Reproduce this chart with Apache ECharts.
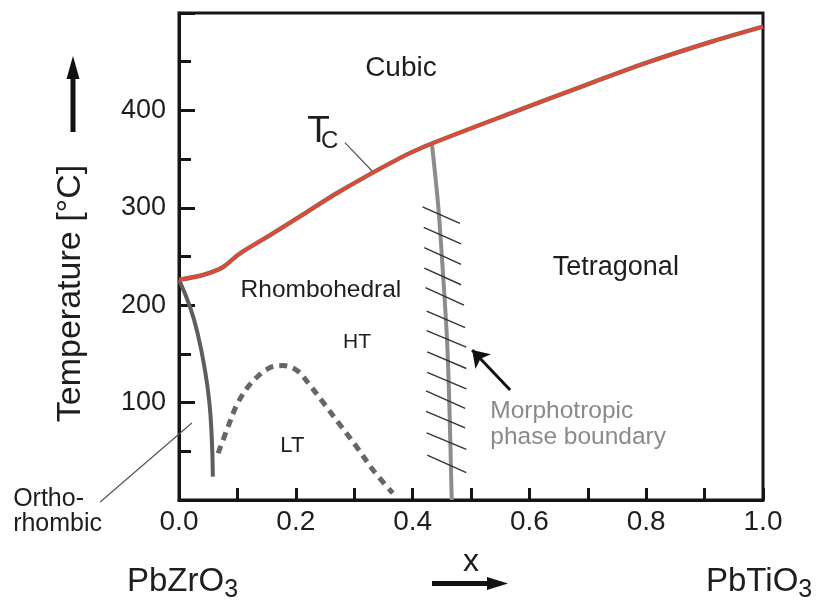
<!DOCTYPE html>
<html><head><meta charset="utf-8">
<script src="https://cdn.jsdelivr.net/npm/echarts@6/dist/echarts.min.js"></script>
<style>html,body{margin:0;padding:0;background:#fff}#c{width:823px;height:605px}</style>
</head><body><div id="c"></div>
<script>
const FONT = 'Liberation Sans, Arial, Helvetica, sans-serif';

// ---- data (x = mole fraction PbTiO3, T in °C) ----
const xTickLabels = ['0.0','0.2','0.4','0.6','0.8','1.0'];
const yTickLabels = ['100','200','300','400'];

// Curie temperature Tc
const tcX = [0, 0.041, 0.075, 0.104, 0.156, 0.212, 0.27, 0.378, 0.433, 0.572, 0.687, 0.801, 0.914, 1.0];
const tcT = [226, 231, 239, 253, 272, 293, 315, 351, 366, 398, 424, 449, 471, 486];

// orthorhombic / rhombohedral boundary
const orthoX = [0, 0.019, 0.033, 0.0445, 0.052, 0.056, 0.058];
const orthoT = [226, 198, 168, 133, 100, 65, 24];

// LT / HT rhombohedral boundary (dashed)
const ltX = [0.067, 0.082, 0.101, 0.125, 0.156, 0.178, 0.202, 0.224, 0.247, 0.276, 0.305, 0.332, 0.366];
const ltT = [48, 72, 100, 121, 136, 138, 133, 118, 100, 77, 54, 31, 7];

// morphotropic phase boundary
const mpbX = [0.433, 0.444, 0.452, 0.459, 0.463, 0.467];
const mpbT = [366, 301, 233, 164, 96, 0];

// hatch marks across the MPB
const hatchX1 = [0.417, 0.419, 0.420, 0.420, 0.422, 0.424, 0.424, 0.425, 0.425, 0.423, 0.423, 0.424, 0.425];
const hatchT1 = [301, 280, 259, 238, 218, 194, 174, 152, 131, 112, 91, 69, 46];
const hatchX2 = [0.481, 0.483, 0.483, 0.483, 0.488, 0.490, 0.492, 0.492, 0.492, 0.490, 0.490, 0.492, 0.492];
const hatchT2 = [284, 263, 242, 221, 200, 177, 157, 135, 114, 94, 74, 52, 28];

// pointer lines [x1, T1, x2, T2]
const tcLeader = [0.284, 367, 0.332, 337];
const orthoLeader = [-0.135, -2, 0.022, 79];
const mpbArrow = [0.567, 113, 0.502, 154];

// region labels
const annoText = ['Cubic', 'Rhombohedral', 'Tetragonal', 'HT', 'LT', 'Morphotropic\nphase boundary', 'Ortho-\nrhombic', 'T', 'C'];
const annoX = [0.380, 0.243, 0.748, 0.305, 0.194, 0.533, -0.284, 0.239, 0.258];
const annoT = [443.5, 215, 239, 162, 55, 77.5, -12.3, 378, 368];

// ---- styles for labels (kept separate) ----
const annoStyle = [
  {fontSize: 28, align: 'center'},
  {fontSize: 24.5, align: 'center'},
  {fontSize: 27, align: 'center'},
  {fontSize: 21, align: 'center'},
  {fontSize: 22, align: 'center'},
  {fontSize: 24.5, align: 'left', color: '#8a8a8a', lineHeight: 26},
  {fontSize: 25, align: 'left', lineHeight: 25},
  {fontSize: 37, align: 'center'},
  {fontSize: 24, align: 'center'}
];

const zip = (a, b) => a.map((v, i) => [v, b[i]]);
const seg = (s) => [[s[0], s[1]], [s[2], s[3]]];

const labelData = annoText.map((t, i) => ({
  value: [annoX[i], annoT[i]],
  label: Object.assign({
    show: true, formatter: t, position: [0, 0], verticalAlign: 'middle',
    color: '#1e1e1e', fontFamily: FONT
  }, annoStyle[i])
}));

const hatchData = hatchX1.map((x, i) => ({coords: [[x, hatchT1[i]], [hatchX2[i], hatchT2[i]]]}));

const chart = echarts.init(document.getElementById('c'), null, {renderer: 'canvas'});
chart.setOption({
  animation: false,
  grid: {left: 179, right: 60, top: 13, bottom: 105, show: true, borderColor: '#151515', borderWidth: 3, backgroundColor: 'transparent'},
  xAxis: {
    type: 'value', min: 0, max: 1, interval: 0.1,
    name: 'x', nameLocation: 'middle', nameGap: 46,
    nameTextStyle: {fontSize: 32, color: '#1e1e1e', fontFamily: FONT},
    axisLine: {lineStyle: {color: '#151515', width: 3}},
    axisTick: {inside: true, length: 12, lineStyle: {color: '#151515', width: 3}},
    splitLine: {show: false},
    axisLabel: {
      margin: 8, fontSize: 28, color: '#1e1e1e', fontFamily: FONT,
      formatter: v => { const s = v.toFixed(1); return xTickLabels.includes(s) ? s : ''; }
    }
  },
  yAxis: {
    type: 'value', min: 0, max: 500, interval: 100,
    name: 'Temperature [°C]', nameLocation: 'middle', nameGap: 91,
    nameTextStyle: {fontSize: 34, color: '#1e1e1e', fontFamily: FONT, padding: [0, 74, 0, 0]},
    axisLine: {lineStyle: {color: '#151515', width: 3}},
    axisTick: {inside: true, length: 16, lineStyle: {color: '#151515', width: 3}},
    minorTick: {show: true, splitNumber: 2, length: 12, lineStyle: {color: '#151515', width: 3}},
    splitLine: {show: false},
    minorSplitLine: {show: false},
    axisLabel: {
      margin: 13, fontSize: 27, color: '#1e1e1e', fontFamily: FONT,
      formatter: v => { const s = String(Math.round(v)); return yTickLabels.includes(s) ? s : ''; }
    }
  },
  series: [
    {type: 'line', name: 'Tc outline', data: zip(tcX, tcT), smooth: 0.25, symbol: 'none',
      lineStyle: {color: '#7a6a66', width: 4.5}, z: 3},
    {type: 'line', name: 'Tc', data: zip(tcX, tcT), smooth: 0.25, symbol: 'none',
      lineStyle: {color: '#e5472f', width: 3}, z: 4},
    {type: 'line', name: 'Orthorhombic boundary', data: zip(orthoX, orthoT), smooth: 0.5, symbol: 'none',
      lineStyle: {color: '#5e5e5e', width: 4}, z: 2},
    {type: 'line', name: 'LT/HT boundary', data: zip(ltX, ltT), smooth: 0.35, symbol: 'none',
      lineStyle: {color: '#666', width: 5, type: [8, 6]}, z: 2},
    {type: 'line', name: 'MPB', data: zip(mpbX, mpbT), smooth: 0.3, symbol: 'none',
      lineStyle: {color: '#8c8c8c', width: 4}, z: 2},
    {type: 'lines', coordinateSystem: 'cartesian2d', name: 'hatch', data: hatchData,
      lineStyle: {color: '#333', width: 1.4, opacity: 1}, z: 3},
    {type: 'lines', coordinateSystem: 'cartesian2d', name: 'leaders', clip: false,
      data: [{coords: seg(tcLeader)}, {coords: seg(orthoLeader)}],
      lineStyle: {color: '#555', width: 1.2, opacity: 1}, z: 3},
    {type: 'lines', coordinateSystem: 'cartesian2d', name: 'mpb arrow',
      data: [{coords: seg(mpbArrow)}], symbol: ['none', 'arrow'], symbolSize: [0, 16],
      lineStyle: {color: '#111', width: 3, opacity: 1}, z: 5},
    {type: 'scatter', name: 'labels', data: labelData, symbolSize: 0, clip: false, silent: true, z: 6,
      itemStyle: {opacity: 1}}
  ],
  graphic: [
    {type: 'line', shape: {x1: 73, y1: 132, x2: 73, y2: 76}, style: {stroke: '#111', lineWidth: 5}},
    {type: 'polygon', shape: {points: [[66.5, 79], [79.5, 79], [73, 56]]}, style: {fill: '#111'}},
    {type: 'line', shape: {x1: 432, y1: 583.5, x2: 490, y2: 583.5}, style: {stroke: '#111', lineWidth: 5}},
    {type: 'polygon', shape: {points: [[487, 577], [487, 590], [508, 583.5]]}, style: {fill: '#111'}},
    {type: 'text', left: 127, top: 565, style: {
      text: '{a|PbZrO}{s|3}', fill: '#1e1e1e', font: '33px ' + FONT,
      rich: {a: {fontSize: 33, fontFamily: FONT, verticalAlign: 'bottom', padding: [0, 0, 5, 0]},
             s: {fontSize: 25, fontFamily: FONT, verticalAlign: 'bottom'}}}},
    {type: 'text', left: 706, top: 565, style: {
      text: '{a|PbTiO}{s|3}', fill: '#1e1e1e', font: '33px ' + FONT,
      rich: {a: {fontSize: 33, fontFamily: FONT, verticalAlign: 'bottom', padding: [0, 0, 5, 0]},
             s: {fontSize: 25, fontFamily: FONT, verticalAlign: 'bottom'}}}}
  ]
});
</script>
</body></html>
